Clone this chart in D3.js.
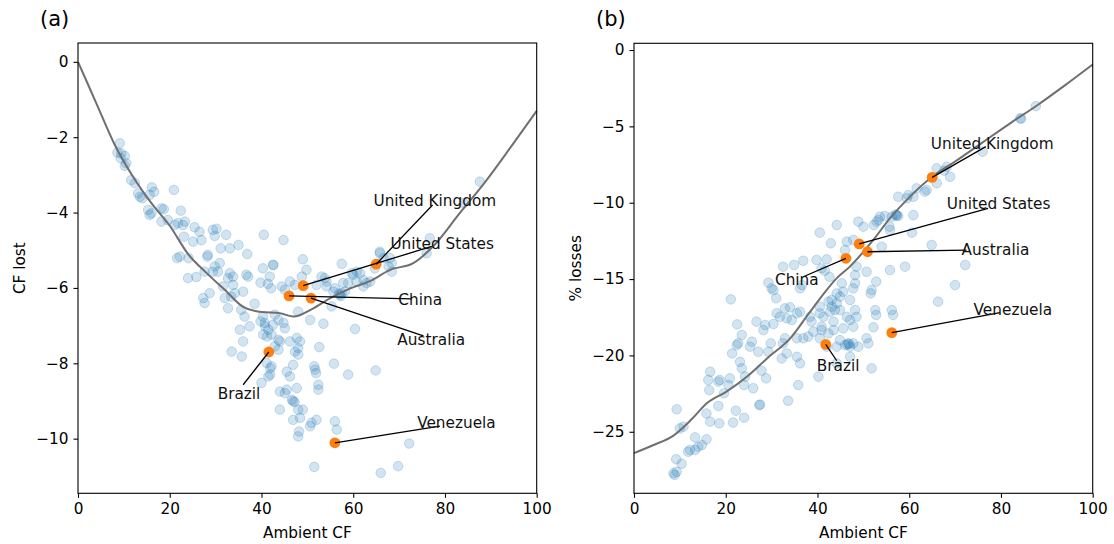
<!DOCTYPE html>
<html>
<head>
<meta charset="utf-8">
<script src="https://cdn.jsdelivr.net/npm/d3@7/dist/d3.min.js"></script>
<style>
  html, body { margin: 0; padding: 0; background: #fff; }
  svg { display: block; font-family: "DejaVu Sans", sans-serif; }
</style>
</head>
<body>
<svg id="chart" width="1114" height="544"></svg>
<script>
// ---- Panel (a): ambient capacity factor vs CF lost, one entry per country ----
const ambientA = [
  9.1, 8.6, 9.4, 10.2, 9.3, 10.5, 10.2, 11.6, 12.4, 16.1, 16.6, 15.6, 13.1, 13.5, 14.0, 20.9,
  18.2, 18.7, 15.3, 16.0, 15.6, 22.4, 18.2, 19.6, 21.1, 21.8, 22.9, 23.3, 23.1, 25.4, 26.5, 25.1,
  26.9, 29.4, 29.8, 30.2, 32.3, 31.1, 33.1, 35.0, 36.9, 40.5, 21.6, 22.2, 24.1, 28.3, 28.2, 30.9,
  29.8, 29.4, 30.5, 24.0, 25.8, 27.6, 33.1, 33.8, 32.7, 36.7, 37.1, 40.3, 42.5, 41.8, 39.8, 41.4,
  42.1, 28.7, 27.3, 27.6, 31.6, 33.8, 34.2, 36.0, 32.0, 33.4, 32.7, 38.5, 35.6, 36.3, 37.4, 40.3,
  39.8, 40.7, 42.5, 42.9, 44.8, 49.0, 49.8, 48.8, 57.5, 46.2, 44.4, 47.3, 45.1, 53.1, 53.8, 54.2,
  52.0, 56.0, 55.7, 57.5, 58.2, 58.9, 60.0, 60.7, 62.2, 62.9, 63.7, 64.7, 65.8, 66.6, 48.0, 50.6,
  53.5, 60.4, 43.7, 44.8, 45.1, 44.0, 46.2, 47.7, 48.4, 48.0, 47.3, 48.0, 52.6, 46.9, 45.5, 46.2,
  51.5, 51.7, 51.9, 55.8, 58.9, 64.9, 44.0, 45.1, 45.5, 46.9, 47.2, 46.6, 47.7, 52.4, 52.4, 48.0,
  49.0, 46.9, 48.4, 50.9, 52.0, 50.6, 48.2, 48.0, 56.0, 56.4, 51.5, 66.0, 33.5, 35.7, 35.3, 36.0,
  40.8, 41.5, 40.4, 41.2, 42.2, 43.7, 43.7, 42.9, 41.1, 41.9, 42.2, 41.9, 41.5, 40.0, 44.0, 87.6,
  84.1, 76.7, 76.0, 65.8, 68.0, 68.4, 68.4, 67.7, 59.7, 60.8, 61.5, 42.6, 57.1, 57.3, 56.9, 55.3,
  72.2, 69.8, 62.2, 54.2, 57.8
];
const lostA = [
  -2.16, -2.41, -2.43, -2.50, -2.56, -2.69, -2.76, -3.14, -3.22, -3.33, -3.45, -3.53, -3.49, -3.58, -3.62, -3.40,
  -3.89, -3.91, -3.93, -4.02, -4.06, -3.95, -4.24, -4.20, -4.33, -4.28, -4.33, -4.24, -4.64, -4.39, -4.51, -4.77,
  -4.73, -4.46, -4.62, -4.43, -4.59, -4.95, -4.95, -4.86, -5.10, -4.59, -5.21, -5.17, -5.21, -5.12, -5.17, -5.34,
  -5.43, -5.57, -5.57, -5.74, -5.71, -5.57, -5.61, -5.70, -5.74, -5.65, -5.70, -5.48, -5.39, -5.70, -5.86, -5.89,
  -6.01, -6.14, -6.27, -6.40, -5.96, -5.92, -6.14, -6.10, -6.27, -6.23, -6.54, -6.42, -6.58, -6.76, -7.02, -6.76,
  -6.89, -6.93, -6.98, -6.71, -4.73, -5.24, -5.52, -5.70, -5.36, -5.83, -5.96, -5.92, -6.05, -5.70, -5.74, -5.83,
  -5.92, -6.01, -6.10, -6.14, -6.10, -5.87, -5.65, -5.83, -5.79, -5.87, -5.83, -5.48, -5.08, -5.21, -6.63, -6.85,
  -6.95, -7.09, -6.85, -6.93, -7.07, -7.42, -7.42, -7.33, -7.42, -7.60, -7.69, -7.77, -7.57, -8.04, -8.22, -8.35,
  -8.08, -8.17, -8.26, -8.01, -8.30, -8.19, -8.75, -8.79, -8.70, -9.00, -9.03, -8.97, -8.66, -8.57, -8.70, -9.23,
  -9.23, -9.50, -9.45, -9.58, -9.50, -9.67, -9.81, -9.94, -9.54, -9.76, -10.75, -10.91, -7.69, -7.82, -7.11, -7.42,
  -7.02, -7.11, -7.24, -7.29, -7.24, -7.38, -7.64, -7.55, -7.99, -8.13, -8.08, -8.30, -8.35, -8.52, -9.23, -3.18,
  -3.75, -4.68, -5.08, -5.04, -5.21, -5.34, -5.57, -5.43, -5.61, -5.57, -5.61, -5.39, -6.18, -6.22, -6.15, -6.49,
  -10.13, -10.73, -5.96, -5.96, -5.87
];

// ---- Panel (b): ambient capacity factor vs % losses ----
const ambientB = [
  44.2, 40.5, 42.9, 39.8, 42.0, 36.9, 34.9, 32.5, 41.6, 40.9, 42.6, 29.3, 30.0, 30.4, 36.2, 36.6,
  31.0, 21.1, 44.2, 43.1, 32.9, 34.0, 35.5, 31.1, 31.8, 33.3, 34.4, 36.2, 38.4, 40.5, 41.3, 43.5,
  42.7, 43.8, 26.7, 28.6, 28.2, 30.4, 22.5, 23.5, 22.7, 22.4, 25.7, 25.3, 27.1, 29.8, 29.3, 32.9,
  32.5, 35.5, 36.9, 38.0, 39.1, 40.9, 33.3, 32.2, 35.5, 36.2, 42.4, 21.4, 23.1, 23.5, 27.8, 28.8,
  16.6, 16.2, 18.4, 18.7, 20.9, 20.6, 19.6, 24.2, 24.0, 26.0, 16.4, 40.2, 35.8, 27.3, 27.5, 33.6,
  18.4, 9.3, 15.8, 22.2, 24.0, 16.6, 18.6, 21.6, 10.0, 10.8, 13.3, 15.8, 14.8, 14.0, 12.2, 11.8,
  13.3, 9.2, 10.4, 8.6, 9.3, 8.9, 76.0, 66.0, 68.2, 68.9, 67.6, 66.0, 61.6, 63.4, 63.8, 59.8,
  59.5, 57.6, 60.9, 57.3, 57.6, 57.0, 56.2, 54.7, 53.6, 53.3, 60.9, 55.7, 52.3, 52.9, 50.0, 48.9,
  60.6, 46.4, 47.8, 54.0, 55.8, 64.9, 46.0, 72.2, 70.0, 66.3, 55.8, 59.1, 50.7, 48.5, 48.2, 52.8,
  51.8, 51.6, 48.2, 47.8, 47.1, 45.6, 45.3, 44.9, 44.2, 42.4, 43.1, 40.5, 52.6, 52.8, 56.2, 56.5,
  48.2, 48.5, 46.4, 47.1, 44.9, 47.8, 45.6, 52.2, 43.5, 40.9, 38.7, 44.9, 46.0, 46.7, 47.1, 47.8,
  48.9, 50.7, 51.1, 44.2, 40.5, 42.0, 47.1, 51.8, 44.2, 87.6, 84.2, 84.4, 46.5, 46.9, 57.2
];
const lossesB = [
  -11.46, -11.96, -12.66, -13.75, -13.71, -13.80, -14.08, -14.19, -14.45, -14.30, -14.85, -15.24, -15.61, -15.72, -15.61, -15.39,
  -16.26, -16.33, -15.94, -16.37, -16.92, -16.85, -17.24, -17.24, -17.47, -17.57, -17.68, -17.14, -17.47, -17.24, -17.47, -17.79,
  -17.14, -17.03, -17.79, -18.01, -18.34, -17.94, -17.97, -18.66, -19.21, -19.32, -19.10, -19.43, -19.76, -19.21, -19.76, -18.88,
  -19.21, -18.88, -18.88, -18.77, -18.44, -18.34, -19.87, -20.20, -20.09, -20.52, -18.56, -19.87, -20.42, -20.85, -21.00, -21.50,
  -21.07, -21.61, -21.72, -21.61, -21.50, -21.94, -22.48, -21.39, -21.94, -22.15, -22.27, -21.39, -21.94, -23.25, -23.22, -22.97,
  -23.31, -23.53, -23.80, -23.62, -24.08, -24.34, -24.45, -24.40, -24.78, -24.67, -25.37, -25.50, -25.87, -25.98, -26.19, -26.31,
  -26.19, -26.80, -27.10, -27.72, -27.62, -27.83, -6.66, -7.75, -7.64, -8.30, -7.90, -8.73, -9.06, -9.28, -9.17, -9.50,
  -9.71, -9.61, -9.61, -10.81, -10.87, -10.78, -10.92, -10.87, -10.92, -11.13, -10.81, -11.57, -11.46, -11.24, -11.57, -11.24,
  -11.96, -12.55, -12.44, -12.88, -11.79, -12.77, -13.10, -14.08, -15.39, -16.48, -14.41, -14.19, -14.52, -14.19, -14.74, -15.17,
  -15.72, -15.94, -15.28, -15.61, -16.37, -15.83, -15.28, -16.15, -16.59, -16.48, -16.81, -16.81, -17.03, -17.35, -17.03, -17.35,
  -17.03, -17.47, -17.47, -17.68, -17.03, -18.12, -18.23, -18.16, -18.34, -18.12, -17.79, -19.00, -19.32, -19.21, -19.43, -19.21,
  -19.43, -18.88, -19.21, -19.43, -18.88, -19.43, -20.09, -20.85, -20.52, -3.67, -4.47, -4.50, -19.30, -19.25, -10.84
];

// ---- Smoothed trend through each panel ----
const trendAx = [0, 4, 8, 12, 16, 20, 24, 28, 32, 36, 40, 44, 47, 51, 55, 59, 64, 68, 73, 78, 83, 89, 95, 100];
const trendAy = [0, -1.1, -2.2, -3.05, -3.75, -4.35, -5.1, -5.6, -6.05, -6.5, -6.64, -6.67, -6.76, -6.56, -6.27, -6.03, -5.8, -5.52, -5.35, -4.82, -4.05, -3.15, -2.15, -1.3];
const trendBx = [0, 4, 8.6, 12.5, 16, 20, 25, 29, 34.3, 38, 41, 44, 47, 52, 56, 60, 65, 70, 76, 82, 88, 94, 100];
const trendBy = [-26.4, -25.9, -25.25, -24.2, -23.1, -22.4, -21.3, -20.2, -18.8, -17.3, -16.1, -15.0, -14.2, -12.5, -10.95, -9.65, -8.3, -7.3, -6.05, -4.8, -3.6, -2.3, -0.95];

// ---- Highlighted countries ----
const countries = ["United Kingdom", "United States", "China", "Australia", "Brazil", "Venezuela"];
const highlightAx = [65.0, 49.1, 46.0, 50.8, 41.6, 56.0];
const highlightAy = [-5.37, -5.94, -6.21, -6.27, -7.70, -10.11];
const highlightBx = [65.0, 49.1, 46.2, 50.9, 41.8, 56.2];
const highlightBy = [-8.34, -12.70, -13.64, -13.21, -19.28, -18.51];

// ---- Tick labels ----
const xTicks = [0, 20, 40, 60, 80, 100];
const yTicksA = [0, -2, -4, -6, -8, -10];
const yTicksB = [0, -5, -10, -15, -20, -25];

// Label placement (data units): text centre, then where the leader line stops
const labelLayoutA = [
  [77.8, -3.67, 77.3, -3.80],
  [79.4, -4.81, 77.1, -4.90],
  [74.6, -6.30, 72.7, -6.29],
  [77.0, -7.38, 75.3, -7.27],
  [35.1, -8.79, 36.0, -8.57],
  [82.5, -9.57, 78.9, -9.67]
];
const labelLayoutB = [
  [78.1, -6.11, 76.7, -6.33],
  [79.5, -10.04, 77.2, -10.37],
  [35.5, -15.06, 36.9, -14.85],
  [78.8, -13.05, 72.5, -13.10],
  [44.5, -20.69, 44.2, -20.35],
  [82.6, -16.96, 79.8, -17.20]
];

const svg = d3.select("#chart");
const FONT = 15.3;
const BLUE = "#1f77b4";
const ORANGE = "#ff7f0e";

function panel(opts) {
  const { left, right, top, bottom, yDomain, xs, ys, tx, ty, hx, hy, layout, yTicks, yLabel, tag, ylabelX } = opts;
  const x = d3.scaleLinear().domain([0, 100]).range([left, right]);
  const y = d3.scaleLinear().domain(yDomain).range([bottom, top]);
  const g = svg.append("g");

  // axes
  const xAxis = d3.axisBottom(x).tickValues(xTicks).tickSize(4.5).tickSizeOuter(0).tickPadding(5).tickFormat(d3.format("d"));
  const yAxis = d3.axisLeft(y).tickValues(yTicks).tickSize(4.5).tickSizeOuter(0).tickPadding(5).tickFormat(d3.format("d"));
  const gx = g.append("g").attr("transform", `translate(0,${bottom})`).call(xAxis);
  const gy = g.append("g").attr("transform", `translate(${left},0)`).call(yAxis);
  [gx, gy].forEach(a => {
    a.select(".domain").remove();
    a.selectAll("line").attr("stroke", "#000").attr("stroke-width", 1.1);
    a.selectAll("text").attr("fill", "#000").style("font-size", FONT + "px").style("font-family", "DejaVu Sans");
  });

  // scatter of all countries
  const pts = xs.map((v, i) => [v, ys[i]]);
  g.append("g").selectAll("circle").data(pts).join("circle")
    .attr("cx", d => x(d[0])).attr("cy", d => y(d[1])).attr("r", 4.8)
    .attr("fill", BLUE).attr("fill-opacity", 0.2)
    .attr("stroke", BLUE).attr("stroke-opacity", 0.22).attr("stroke-width", 1);

  // trend line
  const line = d3.line().x(d => x(d[0])).y(d => y(d[1])).curve(d3.curveMonotoneX);
  g.append("path").datum(tx.map((v, i) => [v, ty[i]]))
    .attr("d", line).attr("fill", "none").attr("stroke", "#6f6f6f").attr("stroke-width", 2);

  // highlighted countries
  g.append("g").selectAll("circle").data(hx.map((v, i) => [v, hy[i]])).join("circle")
    .attr("cx", d => x(d[0])).attr("cy", d => y(d[1])).attr("r", 5.4)
    .attr("fill", ORANGE);

  // annotations
  const ann = g.append("g");
  countries.forEach((name, i) => {
    const [lx, ly, ex, ey] = layout[i];
    ann.append("line")
      .attr("x1", x(hx[i])).attr("y1", y(hy[i]))
      .attr("x2", x(ex)).attr("y2", y(ey))
      .attr("stroke", "#000").attr("stroke-width", 1.3);
    ann.append("text")
      .attr("x", x(lx)).attr("y", y(ly)).attr("dy", "0.36em")
      .attr("text-anchor", "middle")
      .style("font-size", FONT + "px").attr("fill", "#111")
      .text(name);
  });

  // frame
  g.append("rect").attr("x", left).attr("y", top).attr("width", right - left).attr("height", bottom - top)
    .attr("fill", "none").attr("stroke", "#000").attr("stroke-width", 1.1);

  // axis titles
  g.append("text").attr("x", (left + right) / 2).attr("y", 538).attr("text-anchor", "middle")
    .style("font-size", FONT + "px").text("Ambient CF");
  g.append("text").attr("transform", `translate(${ylabelX},${(top + bottom) / 2}) rotate(-90)`)
    .attr("text-anchor", "middle").attr("dy", "0.36em")
    .style("font-size", FONT + "px").text(yLabel);

  // panel tag
  g.append("text").attr("x", tag[1]).attr("y", 26).style("font-size", "21px").text(tag[0]);
}

panel({
  left: 78, right: 536.7, top: 43, bottom: 493.3, yDomain: [-11.45, 0.5],
  xs: ambientA, ys: lostA, tx: trendAx, ty: trendAy, hx: highlightAx, hy: highlightAy,
  layout: labelLayoutA, yTicks: yTicksA, yLabel: "CF lost", tag: ["(a)", 40], ylabelX: 19
});
panel({
  left: 634, right: 1092.7, top: 43.3, bottom: 493.3, yDomain: [-29.03, 0.44],
  xs: ambientB, ys: lossesB, tx: trendBx, ty: trendBy, hx: highlightBx, hy: highlightBy,
  layout: labelLayoutB, yTicks: yTicksB, yLabel: "% losses", tag: ["(b)", 596], ylabelX: 575
});
</script>
</body>
</html>
